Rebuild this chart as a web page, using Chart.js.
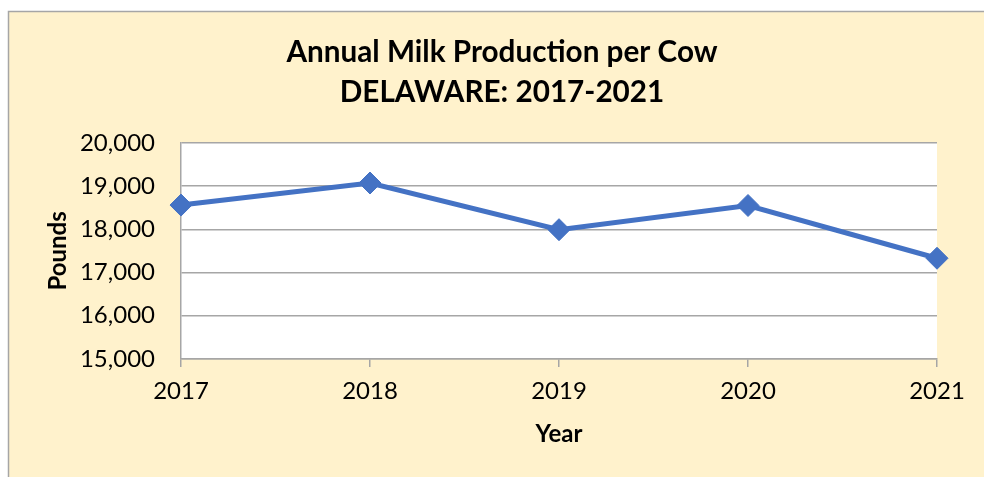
<!DOCTYPE html>
<html>
<head>
<meta charset="utf-8">
<script src="https://cdn.jsdelivr.net/npm/chart.js@4"></script>
<style>
html,body{margin:0;padding:0;background:#ffffff;}
#wrap{position:absolute;left:0;top:0;width:984px;height:477px;}
</style>
</head>
<body>
<div id="wrap"><canvas id="c" width="984" height="477"></canvas></div>
<script>
const categories = ["2017","2018","2019","2020","2021"];
const poundsPerCow = [18560, 19070, 17990, 18550, 17330];
const yTicks = [15000, 16000, 17000, 18000, 19000, 20000];
const titleLines = ["Annual Milk Production per Cow", "DELAWARE: 2017-2021"];

const FONT = "Lato, 'Open Sans', sans-serif";

const framePlugin = {
  id: 'frame',
  beforeDraw(chart) {
    const ctx = chart.ctx;
    ctx.save();
    ctx.fillStyle = '#ffffff';
    ctx.fillRect(0, 0, chart.width, chart.height);
    ctx.fillStyle = '#FFF2CC';
    ctx.fillRect(8, 11, chart.width - 8, chart.height - 11);
    ctx.strokeStyle = '#A6A6A6';
    ctx.lineWidth = 1.5;
    ctx.beginPath();
    ctx.moveTo(8.5, chart.height);
    ctx.lineTo(8.5, 11.5);
    ctx.lineTo(chart.width, 11.5);
    ctx.stroke();
    const a = chart.chartArea;
    ctx.fillStyle = '#ffffff';
    ctx.fillRect(a.left, a.top, a.right - a.left, a.bottom - a.top);
    ctx.restore();
  }
};

new Chart(document.getElementById('c'), {
  type: 'line',
  data: {
    labels: categories,
    datasets: [{
      data: poundsPerCow,
      borderColor: '#4472C4',
      backgroundColor: '#4472C4',
      borderWidth: 5,
      pointStyle: 'rectRot',
      pointRadius: 11,
      pointHoverRadius: 11,
      pointBorderWidth: 1,
      tension: 0,
      clip: false
    }]
  },
  options: {
    responsive: false,
    animation: false,
    devicePixelRatio: 1,
    layout: { padding: { left: 67, right: 47, top: 0, bottom: 0 } },
    plugins: {
      legend: { display: false },
      tooltip: { enabled: false },
      title: {
        display: true,
        text: titleLines,
        color: '#000000',
        font: { family: FONT, size: 29.7, weight: 'bold', lineHeight: 1.36 },
        padding: { top: 32, bottom: 30 }
      }
    },
    scales: {
      x: {
        offset: false,
        afterFit(scale) { scale.height = 118; },
        grid: { drawOnChartArea: false, drawTicks: true, tickLength: 8, color: '#A6A6A6', lineWidth: 1.5 },
        border: { display: true, color: '#A6A6A6', width: 1.5 },
        ticks: { color: '#000000', font: { family: FONT, size: 24 }, padding: 10, maxRotation: 0 },
        title: { display: true, text: 'Year', color: '#000000', font: { family: FONT, size: 24, weight: 'bold' }, padding: { top: 14, bottom: 28 } }
      },
      y: {
        min: 15000,
        max: 20000,
        afterBuildTicks(scale) { scale.ticks = yTicks.map(v => ({ value: v })); },
        afterFit(scale) { scale.width = 114; },
        grid: { drawTicks: false, color: '#A6A6A6', lineWidth: 1.5 },
        border: { display: true, color: '#A6A6A6', width: 1.5 },
        ticks: {
          color: '#000000',
          font: { family: FONT, size: 24 },
          padding: 26,
          callback: v => v.toLocaleString('en-US')
        },
        title: { display: true, text: 'Pounds', color: '#000000', font: { family: FONT, size: 24, weight: 'bold' }, padding: { top: -23, bottom: 4 } }
      }
    }
  },
  plugins: [framePlugin]
});
</script>
</body>
</html>
